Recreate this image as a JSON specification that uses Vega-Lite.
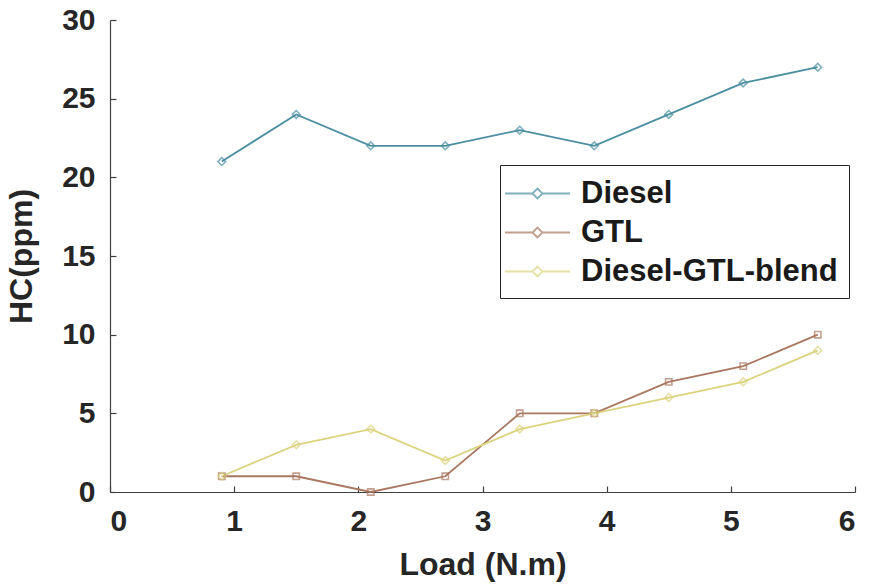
{
  "$schema": "https://vega.github.io/schema/vega-lite/v6.json",
  "autosize": "none",
  "width": 745,
  "height": 472,
  "padding": {"left": 110, "top": 20, "right": 16, "bottom": 93},
  "background": "white",
  "config": {
    "view": {"stroke": null},
    "font": "Liberation Sans",
    "axis": {
      "domainColor": "#404040",
      "domainWidth": 1.2,
      "tickColor": "#404040",
      "tickWidth": 1.2,
      "tickSize": -6,
      "grid": false,
      "labelFont": "Liberation Sans",
      "labelFontWeight": "bold",
      "labelFontSize": 30,
      "labelColor": "#262626",
      "titleFont": "Liberation Sans",
      "titleFontWeight": "bold",
      "titleFontSize": 32,
      "titleColor": "#262626"
    }
  },
  "data": {
    "values": [
      {"load": 0.9, "hc": 21, "fuel": "Diesel"},
      {"load": 1.5, "hc": 24, "fuel": "Diesel"},
      {"load": 2.1, "hc": 22, "fuel": "Diesel"},
      {"load": 2.7, "hc": 22, "fuel": "Diesel"},
      {"load": 3.3, "hc": 23, "fuel": "Diesel"},
      {"load": 3.9, "hc": 22, "fuel": "Diesel"},
      {"load": 4.5, "hc": 24, "fuel": "Diesel"},
      {"load": 5.1, "hc": 26, "fuel": "Diesel"},
      {"load": 5.7, "hc": 27, "fuel": "Diesel"},
      {"load": 0.9, "hc": 1, "fuel": "GTL"},
      {"load": 1.5, "hc": 1, "fuel": "GTL"},
      {"load": 2.1, "hc": 0, "fuel": "GTL"},
      {"load": 2.7, "hc": 1, "fuel": "GTL"},
      {"load": 3.3, "hc": 5, "fuel": "GTL"},
      {"load": 3.9, "hc": 5, "fuel": "GTL"},
      {"load": 4.5, "hc": 7, "fuel": "GTL"},
      {"load": 5.1, "hc": 8, "fuel": "GTL"},
      {"load": 5.7, "hc": 10, "fuel": "GTL"},
      {"load": 0.9, "hc": 1, "fuel": "Diesel-GTL-blend"},
      {"load": 1.5, "hc": 3, "fuel": "Diesel-GTL-blend"},
      {"load": 2.1, "hc": 4, "fuel": "Diesel-GTL-blend"},
      {"load": 2.7, "hc": 2, "fuel": "Diesel-GTL-blend"},
      {"load": 3.3, "hc": 4, "fuel": "Diesel-GTL-blend"},
      {"load": 3.9, "hc": 5, "fuel": "Diesel-GTL-blend"},
      {"load": 4.5, "hc": 6, "fuel": "Diesel-GTL-blend"},
      {"load": 5.1, "hc": 7, "fuel": "Diesel-GTL-blend"},
      {"load": 5.7, "hc": 9, "fuel": "Diesel-GTL-blend"}
    ]
  },
  "encoding": {
    "x": {
      "field": "load",
      "type": "quantitative",
      "title": "Load (N.m)",
      "scale": {"domain": [0, 6], "nice": false},
      "axis": {"values": [0, 1, 2, 3, 4, 5, 6], "labelPadding": 20, "titlePadding": 13}
    },
    "y": {
      "field": "hc",
      "type": "quantitative",
      "title": "HC(ppm)",
      "scale": {"domain": [0, 30], "nice": false},
      "axis": {"values": [0, 5, 10, 15, 20, 25, 30], "labelPadding": 21, "titlePadding": 23}
    },
    "color": {
      "field": "fuel",
      "type": "nominal",
      "scale": {
        "domain": ["Diesel", "GTL", "Diesel-GTL-blend"],
        "range": ["#4a8ea0", "#a9775f", "#dcd37f"]
      }
    }
  },
  "layer": [
    {
      "mark": {"type": "line", "strokeWidth": 1.8},
      "encoding": {
        "color": {
          "field": "fuel",
          "type": "nominal",
          "legend": {
            "orient": "none",
            "legendX": 390,
            "legendY": 145,
            "title": null,
            "direction": "vertical",
            "strokeColor": "#262626",
            "fillColor": "white",
            "padding": 11,
            "rowPadding": 6,
            "symbolType": "M-1.42,0H0.245L0.545,-0.3L0.845,0L0.545,0.3L0.245,0ZM0.845,0H2.52",
            "symbolSize": 1089,
            "symbolStrokeWidth": 1.8,
            "labelFont": "Liberation Sans",
            "labelFontWeight": "bold",
            "labelFontSize": 31,
            "labelColor": "#1a1a1a",
            "labelOffset": 35,
            "labelLimit": 400
          }
        }
      }
    },
    {
      "transform": [{"filter": "datum.fuel === 'GTL'"}],
      "mark": {"type": "point", "shape": "square", "size": 40, "filled": false, "strokeWidth": 1.6}
    },
    {
      "transform": [{"filter": "datum.fuel !== 'GTL'"}],
      "mark": {"type": "point", "shape": "diamond", "size": 60, "filled": false, "strokeWidth": 1.6}
    }
  ]
}
